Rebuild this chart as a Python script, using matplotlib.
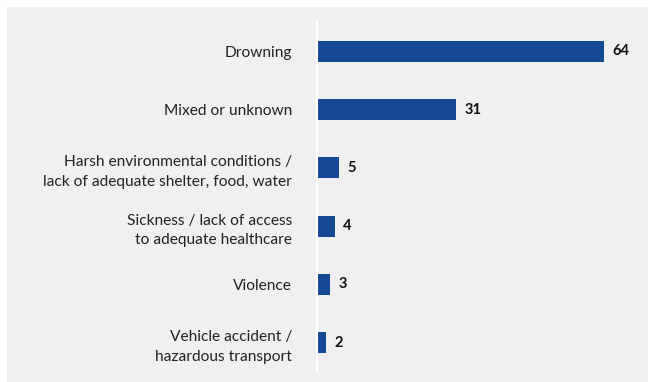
import matplotlib.pyplot as plt
from matplotlib.patches import Rectangle

categories = [
    'Drowning',
    'Mixed or unknown',
    'Harsh environmental conditions /\nlack of adequate shelter, food, water',
    'Sickness / lack of access\nto adequate healthcare',
    'Violence',
    'Vehicle accident /\nhazardous transport',
]
values = [64, 31, 5, 4, 3, 2]

W, H = 648, 382
bg = '#f0f0f0'
bar_color = '#144995'

plt.rcParams['font.family'] = ['Lato', 'DejaVu Sans']

fig = plt.figure(figsize=(W / 100, H / 100), dpi=100)
fig.patch.set_facecolor('white')
fig.patches.append(Rectangle((7 / W, 0), 1, 1 - 7 / H, transform=fig.transFigure,
                             facecolor=bg, edgecolor='none', zorder=-1))

# axes: x from 317 to 635 px, y from 22 to 372 px (from top)
ax = fig.add_axes([317 / W, 1 - 372 / H, (635 - 317) / W, (372 - 22) / H])
ax.set_facecolor(bg)

ypos = list(range(len(categories)))
ax.barh(ypos, values, height=0.36, color=bar_color, zorder=2)
ax.set_ylim(len(categories) - 0.5, -0.5)
ax.set_xlim(0, (635 - 317) / ((604 - 317) / 64))

ax.set_yticks(ypos)
ax.set_yticklabels(categories, fontsize=11.2, color='#222222', linespacing=1.5)
ax.tick_params(axis='y', length=0, pad=18)
ax.set_xticks([])

for s in ['top', 'right', 'bottom']:
    ax.spines[s].set_visible(False)
ax.spines['left'].set_color('white')
ax.spines['left'].set_linewidth(1.5)

for y, v in zip(ypos, values):
    ax.annotate(str(v), (v, y), xytext=(6, 0), textcoords='offset points',
                va='center', ha='left', fontsize=10.5, fontweight='bold', color='#111111')

fig.savefig('out.png', dpi=100, facecolor='white')
